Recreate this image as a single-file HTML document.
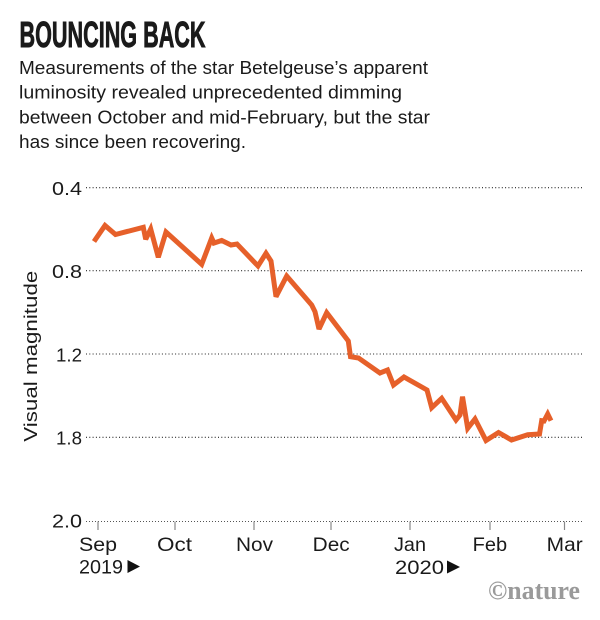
<!DOCTYPE html>
<html>
<head>
<meta charset="utf-8">
<style>
  html, body { margin: 0; padding: 0; background: #ffffff; }
  body { width: 600px; height: 620px; overflow: hidden; }
  svg { display: block; }
  text { font-family: "Liberation Sans", "DejaVu Sans", sans-serif; fill: #1a1a1a; }
</style>
</head>
<body>
<svg width="600" height="620" viewBox="0 0 600 620" xmlns="http://www.w3.org/2000/svg">
  <rect x="0" y="0" width="600" height="620" fill="#ffffff"/>

  <!-- Title -->
  <text x="19.5" y="47" font-size="36.5" font-weight="bold" stroke="#1a1a1a" stroke-width="0.9" textLength="186" lengthAdjust="spacingAndGlyphs">BOUNCING BACK</text>

  <!-- Subtitle -->
  <text x="19" y="74" font-size="18.8" textLength="409" lengthAdjust="spacingAndGlyphs">Measurements of the star Betelgeuse’s apparent</text>
  <text x="19" y="98.5" font-size="18.8" textLength="383" lengthAdjust="spacingAndGlyphs">luminosity revealed unprecedented dimming</text>
  <text x="19" y="123.3" font-size="18.8" textLength="411" lengthAdjust="spacingAndGlyphs">between October and mid-February, but the star</text>
  <text x="19" y="148" font-size="18.8" textLength="227" lengthAdjust="spacingAndGlyphs">has since been recovering.</text>

  <!-- Gridlines -->
  <g stroke="#222" stroke-width="1.1" stroke-dasharray="1 2.3">
    <line x1="86" y1="187.7" x2="582" y2="187.7"/>
    <line x1="86" y1="270.7" x2="582" y2="270.7"/>
    <line x1="86" y1="354" x2="582" y2="354"/>
    <line x1="86" y1="437.3" x2="582" y2="437.3"/>
  </g>
  <line x1="86" y1="521.5" x2="582" y2="521.5" stroke="#555" stroke-width="1.1" stroke-dasharray="1 2"/>

  <!-- Ticks -->
  <g stroke="#888" stroke-width="1.2">
    <line x1="98" y1="521.5" x2="98" y2="530"/>
    <line x1="175" y1="521.5" x2="175" y2="530"/>
    <line x1="254" y1="521.5" x2="254" y2="530"/>
    <line x1="331" y1="521.5" x2="331" y2="530"/>
    <line x1="410" y1="521.5" x2="410" y2="530"/>
    <line x1="490" y1="521.5" x2="490" y2="530"/>
    <line x1="564.5" y1="521.5" x2="564.5" y2="530"/>
  </g>

  <!-- Y tick labels -->
  <g font-size="18.5" text-anchor="end">
    <text x="82" y="195" textLength="30" lengthAdjust="spacingAndGlyphs">0.4</text>
    <text x="82" y="278" textLength="30" lengthAdjust="spacingAndGlyphs">0.8</text>
    <text x="82" y="361.3" textLength="26" lengthAdjust="spacingAndGlyphs">1.2</text>
    <text x="82" y="444.6" textLength="26" lengthAdjust="spacingAndGlyphs">1.8</text>
    <text x="82" y="527.5" textLength="30" lengthAdjust="spacingAndGlyphs">2.0</text>
  </g>

  <!-- Y axis title -->
  <text transform="translate(36.8,441.7) rotate(-90)" x="0" y="0" font-size="18.5" textLength="171" lengthAdjust="spacingAndGlyphs">Visual magnitude</text>

  <!-- X labels -->
  <g font-size="19.5">
    <text x="79" y="551" textLength="38" lengthAdjust="spacingAndGlyphs">Sep</text>
    <text x="157" y="551" textLength="35" lengthAdjust="spacingAndGlyphs">Oct</text>
    <text x="236" y="551" textLength="37" lengthAdjust="spacingAndGlyphs">Nov</text>
    <text x="312.7" y="551" textLength="37" lengthAdjust="spacingAndGlyphs">Dec</text>
    <text x="394" y="551" textLength="32" lengthAdjust="spacingAndGlyphs">Jan</text>
    <text x="472.7" y="551" textLength="34.5" lengthAdjust="spacingAndGlyphs">Feb</text>
    <text x="546.7" y="551" textLength="36" lengthAdjust="spacingAndGlyphs">Mar</text>
    <text x="79" y="573.5" textLength="44" lengthAdjust="spacingAndGlyphs">2019</text>
    <text x="395" y="574" textLength="49" lengthAdjust="spacingAndGlyphs">2020</text>
  </g>
  <polygon points="127.5,560 127.5,573 140,566.5" fill="#111"/>
  <polygon points="447,560.5 447,573.5 460,567" fill="#111"/>

  <!-- Data line -->
  <polyline fill="none" stroke="#e6602a" stroke-width="5" stroke-linejoin="miter" stroke-miterlimit="3" stroke-linecap="butt"
    points="94,241.5 105,225.5 115.5,234.5 143.3,227.3 145.7,239.3 150.7,229 158.3,257.3 166,232 201.7,264.3 211.7,238 214,243 221.7,240.5 231,245 237,244 258,266 266,253.3 271,261 276,296.7 286.7,276 311.7,305 315,311.7 319,329 326.7,312.7 348.3,341 350.5,356.7 358.5,358 380,373 387.5,370 393.5,385 404,377 427,390 431.7,407.7 441.7,398.3 456,420 460,415 462.5,396.7 467.7,428.3 475,419 486,440.5 498.5,432.5 511.5,440 527.7,434.7 539.5,434 541.7,420.7 544,421 547.7,414 551,420.7"/>

  <!-- nature logo -->
  <text x="488" y="599" font-weight="bold" font-size="26" style="fill:#9a9a9a;font-family:'Liberation Serif',serif" textLength="92" lengthAdjust="spacingAndGlyphs">©nature</text>
</svg>
</body>
</html>
